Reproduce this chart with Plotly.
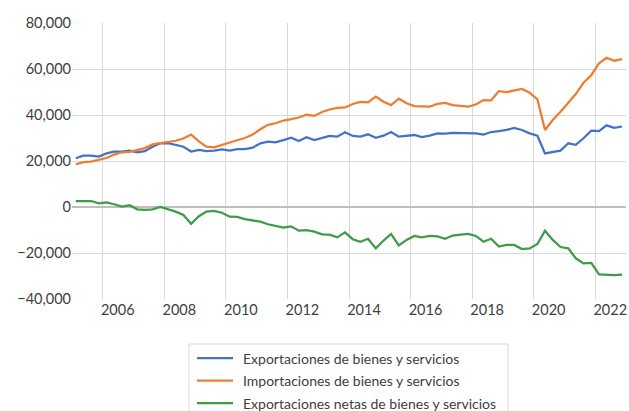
import plotly.graph_objects as go

# Quarterly periods 2005T1 .. 2022T4 (mid-quarter dates)
quarters = [f"{y}-{m:02d}-15" for y in range(2005, 2023) for m in (2, 5, 8, 11)]

exportaciones = [
    21.2, 22.3, 22.3, 21.9, 23.3, 24.1, 24.1, 24.5, 23.8, 24.3, 26.2, 27.7,
    27.8, 27.0, 26.2, 24.1, 24.8, 24.3, 24.5, 25.1, 24.5, 25.2, 25.2, 25.8,
    27.7, 28.4, 28.1, 29.1, 30.1, 28.7, 30.3, 29.1, 30.1, 30.9, 30.6, 32.5,
    30.9, 30.6, 31.6, 30.1, 31.0, 32.6, 30.6, 31.0, 31.3, 30.4, 31.0, 32.0,
    31.9, 32.2, 32.2, 32.2, 32.0, 31.5, 32.6, 33.0, 33.5, 34.4, 33.5, 32.0,
    31.0, 23.3, 23.8, 24.5, 27.7, 27.0, 29.9, 33.2, 33.0, 35.5, 34.4, 35.0,
]
importaciones = [
    18.6, 19.5, 19.7, 20.5, 21.3, 22.8, 23.8, 24.0, 24.8, 25.6, 27.2, 27.8,
    28.5, 28.8, 29.8, 31.5, 28.5, 26.2, 25.9, 27.0, 28.2, 29.0, 30.0, 31.5,
    33.8, 35.7, 36.4, 37.6, 38.2, 38.9, 40.1, 39.6, 41.3, 42.4, 43.1, 43.3,
    44.8, 45.7, 45.5, 48.0, 45.8, 44.3, 47.1, 45.1, 43.9, 43.6, 43.6, 44.8,
    45.3, 44.3, 43.9, 43.6, 44.6, 46.5, 46.4, 50.4, 50.0, 50.7, 51.3, 49.7,
    46.8, 33.5, 37.8, 41.4, 45.3, 49.1, 54.0, 57.3, 62.5, 64.9, 63.6, 64.3,
]
netas = [
    2.6, 2.6, 2.6, 1.6, 2.0, 1.2, 0.2, 0.8, -1.0, -1.3, -1.0, 0.0,
    -1.0, -2.0, -3.5, -7.3, -4.0, -2.0, -1.7, -2.5, -4.2, -4.3, -5.3, -6.0,
    -6.4, -7.5, -8.3, -9.0, -8.4, -10.3, -10.1, -10.7, -11.9, -12.0, -13.2, -11.0,
    -14.0, -15.1, -13.8, -18.0, -14.6, -11.7, -16.7, -14.3, -12.6, -13.2, -12.6, -12.8,
    -13.8, -12.4, -12.0, -11.7, -12.6, -15.1, -13.8, -17.2, -16.5, -16.5, -18.3, -18.0,
    -16.1, -10.3, -14.3, -17.4, -18.0, -22.3, -24.5, -24.3, -29.3, -29.6, -29.6, -29.4,
]
series_names = [
    "Exportaciones de bienes y servicios",
    "Importaciones de bienes y servicios",
    "Exportaciones netas de bienes y servicios",
]
series_colors = ["#4472C4", "#ED7D31", "#3F9B4A"]

year_ticks = [f"{y}-01-01" for y in range(2006, 2023, 2)]
year_labels = [str(y) for y in range(2006, 2023, 2)]
y_ticks = [-40000, -20000, 0, 20000, 40000, 60000, 80000]

W, H = 629, 411
ML, MR, MT, MB = 72, 3, 23, 112
PW, PH = W - ML - MR, H - MT - MB


def px_x(px):
    return (px - ML) / PW


def px_y(py):
    return (H - MB - py) / PH


fig = go.Figure()
for name, vals, col in zip(series_names, [exportaciones, importaciones, netas], series_colors):
    fig.add_trace(go.Scatter(
        x=quarters, y=[v * 1000 for v in vals], mode="lines", name=name,
        line=dict(color=col, width=2.25), showlegend=False,
    ))

# Legend drawn as a box below the plot (its bottom runs past the page edge)
fig.add_shape(type="rect", xref="paper", yref="paper",
              x0=px_x(189), x1=px_x(508), y0=px_y(430), y1=px_y(344),
              line=dict(color="#d9d9d9", width=1), fillcolor="white", layer="above")
for k, (name, col) in enumerate(zip(series_names, series_colors)):
    yy = 358 + k * 22.5
    fig.add_shape(type="line", xref="paper", yref="paper",
                  x0=px_x(197), x1=px_x(233), y0=px_y(yy), y1=px_y(yy),
                  line=dict(color=col, width=2.25), layer="above")
    fig.add_annotation(xref="paper", yref="paper", x=px_x(241), y=px_y(yy),
                       text=name, showarrow=False, xanchor="left", yanchor="middle",
                       font=dict(size=14, color="#404040"))

font_family = "Lato, 'Open Sans', sans-serif"
fig.update_layout(
    width=W, height=H,
    margin=dict(l=ML, r=MR, t=MT, b=MB),
    paper_bgcolor="white", plot_bgcolor="white",
    font=dict(family=font_family, size=15, color="#404040"),
    showlegend=False,
)
fig.update_xaxes(
    type="date", range=["2005-01-01", "2023-01-01"],
    tickmode="array", tickvals=year_ticks, ticktext=year_labels,
    ticklabelshift=15, tickfont=dict(size=14.5),
    showgrid=True, gridcolor="#d9d9d9", gridwidth=1,
    showline=False, zeroline=False, ticks="", automargin=False,
    ticklabeloverflow="allow",
)
fig.update_yaxes(
    range=[-40000, 80000], tickmode="array", tickvals=y_ticks,
    tickformat=",d", tickfont=dict(size=14.5),
    showgrid=True, gridcolor="#d9d9d9", gridwidth=1,
    zeroline=True, zerolinecolor="#bfbfbf", zerolinewidth=2,
    showline=False, ticks="", automargin=False,
)

fig.write_html("out.html", config={"displayModeBar": False},
               post_script="document.body.style.margin='0';")
